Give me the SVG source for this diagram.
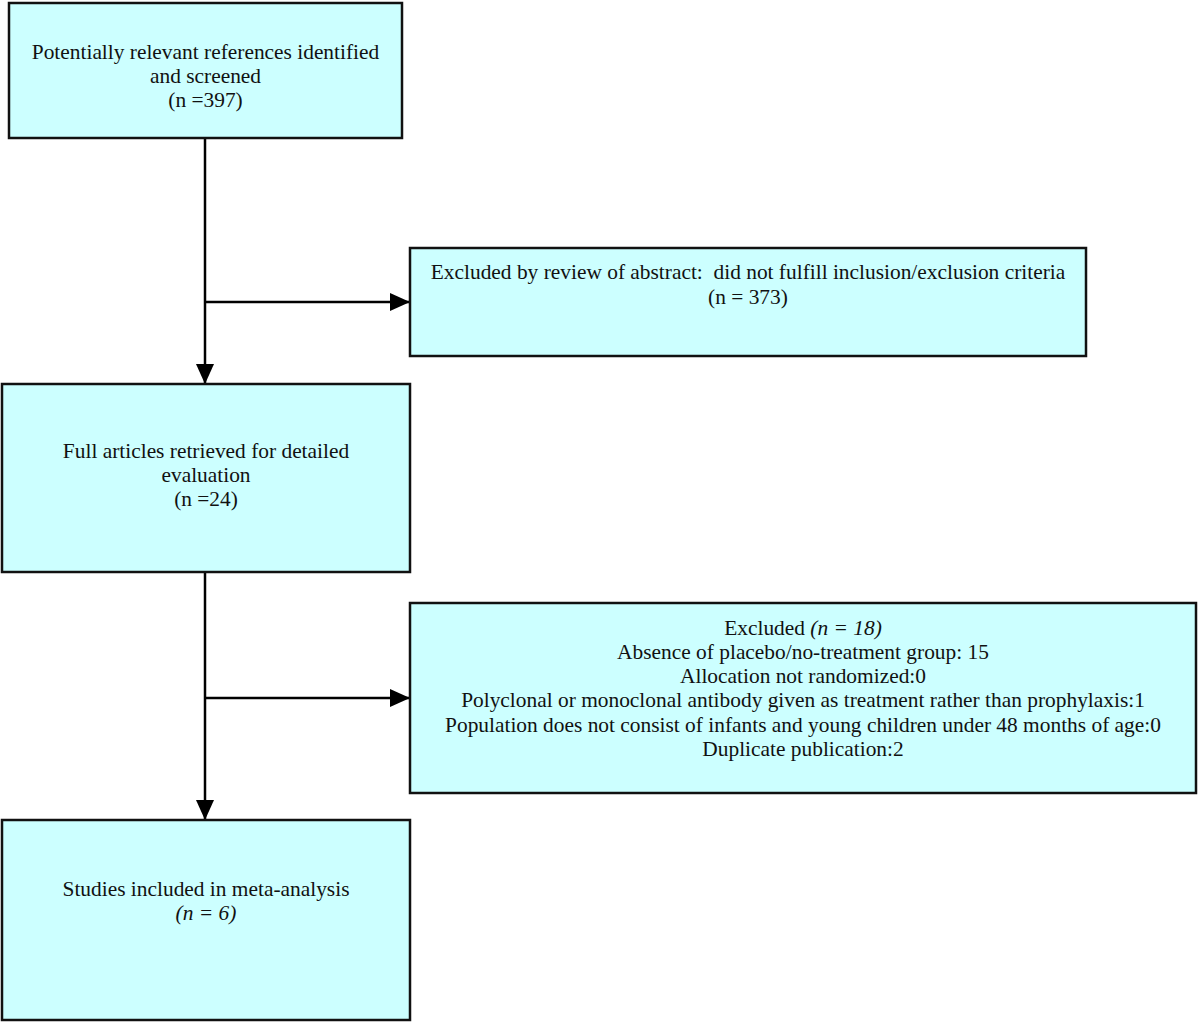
<svg xmlns="http://www.w3.org/2000/svg" width="1200" height="1023" viewBox="0 0 1200 1023">
<style>
.box{fill:#ccffff;stroke:#111;stroke-width:2.5}
.t{font-family:"Liberation Serif","Times New Roman",serif;font-size:21.4px;fill:#111;text-anchor:middle}
.i{font-style:italic}
.c{stroke:#000;stroke-width:2.5;fill:none}
</style>
<defs>
<marker id="ah" viewBox="0 0 20 18" refX="20" refY="9" markerWidth="20" markerHeight="18" orient="auto" markerUnits="userSpaceOnUse">
<path d="M0,0 L20,9 L0,18 Z" fill="#000"/>
</marker>
</defs>
<rect width="1200" height="1023" fill="#fff"/>
<g id="connectors">
<path class="c" d="M205,138 V384" marker-end="url(#ah)"/>
<path class="c" d="M205,302 H410" marker-end="url(#ah)"/>
<path class="c" d="M205,572 V820" marker-end="url(#ah)"/>
<path class="c" d="M205,698 H410" marker-end="url(#ah)"/>
</g>
<g id="n1">
<rect class="box" x="9" y="3" width="393" height="135"/>
<text class="t" x="205.5" y="59">Potentially relevant references identified</text>
<text class="t" x="205.5" y="83">and screened</text>
<text class="t" x="205.5" y="107">(n =397)</text>
</g>
<g id="n2">
<rect class="box" x="410" y="248" width="676" height="108"/>
<text class="t" x="748" y="279">Excluded by review of abstract:&#160; did not fulfill inclusion/exclusion criteria</text>
<text class="t" x="748" y="304">(n = 373)</text>
</g>
<g id="n3">
<rect class="box" x="2" y="384" width="408" height="188"/>
<text class="t" x="206" y="458">Full articles retrieved for detailed</text>
<text class="t" x="206" y="482">evaluation</text>
<text class="t" x="206" y="506">(n =24)</text>
</g>
<g id="n4">
<rect class="box" x="410" y="603" width="786" height="190"/>
<text class="t" x="803" y="635">Excluded <tspan class="i">(n = 18)</tspan></text>
<text class="t" x="803" y="659">Absence of placebo/no-treatment group: 15</text>
<text class="t" x="803" y="683">Allocation not randomized:0</text>
<text class="t" x="803" y="707">Polyclonal or monoclonal antibody given as treatment rather than prophylaxis:1</text>
<text class="t" x="803" y="732">Population does not consist of infants and young children under 48 months of age:0</text>
<text class="t" x="803" y="756">Duplicate publication:2</text>
</g>
<g id="n5">
<rect class="box" x="2" y="820" width="408" height="200"/>
<text class="t" x="206" y="896">Studies included in meta-analysis</text>
<text class="t i" x="206" y="920">(n = 6)</text>
</g>
</svg>
